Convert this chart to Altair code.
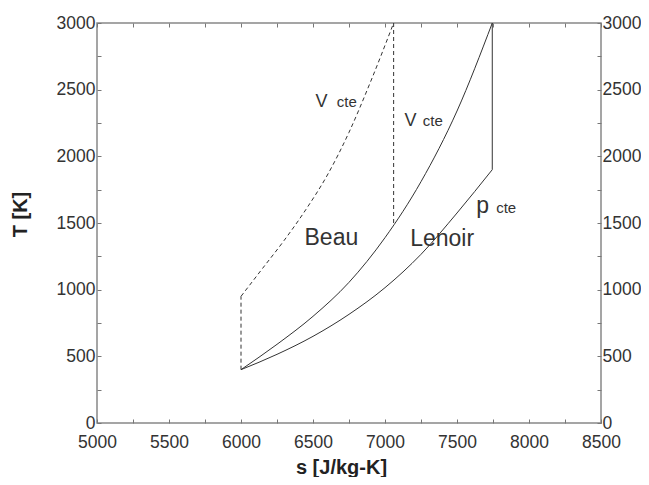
import altair as alt
import pandas as pd

# ---- data ----
# Beau cycle: vertical at s=6000 (dashed)
beau_vert_s = [6000, 6000]
beau_vert_T = [400, 950]
# Beau cycle: rising V cte curve (dashed)
beau_up_s = [6000, 6150, 6300, 6450, 6600, 6750, 6900, 7060]
beau_up_T = [950, 1160, 1370, 1600, 1860, 2180, 2560, 3000]
# Beau cycle: vertical drop at s=7060 (dashed)
beau_drop_s = [7060, 7060]
beau_drop_T = [3000, 1495]
# V cte curve shared by both cycles (solid)
vcte_s = [6000, 6250, 6500, 6750, 7000, 7250, 7500, 7745]
vcte_T = [400, 590, 800, 1055, 1390, 1810, 2340, 3000]
# Lenoir vertical drop at s=7745 (solid)
len_drop_s = [7745, 7745]
len_drop_T = [3000, 1900]
# p cte curve (solid)
pcte_s = [6000, 6250, 6500, 6750, 7000, 7250, 7500, 7745]
pcte_T = [400, 515, 650, 815, 1015, 1265, 1575, 1900]

# annotations (data coordinates)
big_text = ["Beau", "Lenoir", "p"]
big_s = [6441, 7175, 7633]
big_T = [1337, 1330, 1575]
mid_text = ["V", "V"]
mid_s = [6517, 7135]
mid_T = [2370, 2225]
small_text = ["cte", "cte", "cte"]
small_s = [6665, 7262, 7772]
small_T = [2370, 2225, 1575]

x_major = [5000, 5500, 6000, 6500, 7000, 7500, 8000, 8500]
x_minor = list(range(5000, 8501, 250))
y_major = [0, 500, 1000, 1500, 2000, 2500, 3000]
y_minor = list(range(0, 3001, 250))

# ---- build tables ----
rows = []
segments = [
    ("beau_vert", "dashed", "straight", beau_vert_s, beau_vert_T),
    ("beau_up", "dashed", "curve", beau_up_s, beau_up_T),
    ("beau_drop", "dashed", "straight", beau_drop_s, beau_drop_T),
    ("vcte", "solid", "curve", vcte_s, vcte_T),
    ("len_drop", "solid", "straight", len_drop_s, len_drop_T),
    ("pcte", "solid", "curve", pcte_s, pcte_T),
]
for name, style, kind, ss, tt in segments:
    for i, (s, t) in enumerate(zip(ss, tt)):
        rows.append({"s": s, "T": t, "seg": name, "style": style, "kind": kind, "idx": i})
lines = pd.DataFrame(rows)

big_df = pd.DataFrame({"s": big_s, "T": big_T, "text": big_text})
mid_df = pd.DataFrame({"s": mid_s, "T": mid_T, "text": mid_text})
small_df = pd.DataFrame({"s": small_s, "T": small_T, "text": small_text})

FONT = "Liberation Sans"
W, H = 504, 400
xs = alt.Scale(domain=[5000, 8500], nice=False, zero=False)
ys = alt.Scale(domain=[0, 3000], nice=False, zero=False)

lab = dict(labelFont=FONT, labelFontSize=17.5, labelColor="#333", domain=False,
           ticks=False, tickSize=0, grid=False, format="d", labelFlush=False,
           labelOverlap=False)
tick = dict(labels=False, domain=False, grid=False, ticks=True, tickSize=4,
            tickColor="#777", tickWidth=1, title="")

x_bottom = alt.Axis(orient="bottom", values=x_major, labelPadding=10,
                    title="s [J/kg-K]", titleFont=FONT, titleFontSize=20,
                    titleFontWeight="bold", titleColor="#222", titleX=244, titleY=50,
                    titleBaseline="alphabetic", titleAlign="center", **lab)
y_left = alt.Axis(orient="left", values=y_major, labelPadding=2,
                  title="T [K]", titleFont=FONT, titleFontSize=20,
                  titleFontWeight="bold", titleColor="#222", titleAngle=270,
                  titleX=-71, titleY=191, titleAlign="center",
                  titleBaseline="alphabetic", **lab)
y_right = alt.Axis(orient="right", values=y_major, labelPadding=1, title="", **lab)

base = alt.Chart(lines)


def line_layer(style, kind, x_axis=None, y_axis=None):
    mark_args = dict(color="#333", strokeWidth=1,
                     interpolate="monotone" if kind == "curve" else "linear")
    if style == "dashed":
        mark_args["strokeDash"] = [4, 3]
    return base.transform_filter(
        (alt.datum.style == style) & (alt.datum.kind == kind)
    ).mark_line(**mark_args).encode(
        x=alt.X("s:Q", scale=xs, axis=x_axis),
        y=alt.Y("T:Q", scale=ys, axis=y_axis),
        detail="seg:N", order="idx:Q",
    )


solid_curve = line_layer("solid", "curve", x_bottom, y_left)
solid_straight = line_layer("solid", "straight")
dashed_curve = line_layer("dashed", "curve")
dashed_straight = line_layer("dashed", "straight")

ticks_a = base.mark_point(opacity=0).encode(
    x=alt.X("s:Q", scale=xs, axis=alt.Axis(orient="top", offset=-H, values=x_minor, **tick)),
    y=alt.Y("T:Q", scale=ys, axis=alt.Axis(orient="right", offset=-W, values=y_minor, **tick)),
)
ticks_b = base.mark_point(opacity=0).encode(
    x=alt.X("s:Q", scale=xs, axis=alt.Axis(orient="bottom", offset=-H, values=x_minor, **tick)),
    y=alt.Y("T:Q", scale=ys, axis=alt.Axis(orient="left", offset=-W, values=y_minor, **tick)),
)
right_lab = base.mark_point(opacity=0).encode(
    x=alt.X("s:Q", scale=xs, axis=None),
    y=alt.Y("T:Q", scale=ys, axis=y_right),
)


def text_layer(df, size):
    return alt.Chart(df).mark_text(
        font=FONT, fontSize=size, color="#333", align="left", baseline="alphabetic"
    ).encode(
        x=alt.X("s:Q", scale=xs, axis=None),
        y=alt.Y("T:Q", scale=ys, axis=None),
        text="text:N",
    )


chart = alt.layer(
    solid_curve, solid_straight, dashed_curve, dashed_straight,
    ticks_a, ticks_b, right_lab,
    text_layer(big_df, 23), text_layer(mid_df, 18), text_layer(small_df, 15),
).resolve_axis(x="independent", y="independent").resolve_scale(
    x="shared", y="shared"
).properties(
    width=W, height=H,
    autosize=alt.AutoSizeParams(type="none"),
    padding={"left": 89, "top": 15, "right": 40, "bottom": 54},
    background="white",
).configure_view(stroke="#888", strokeWidth=1.5)

chart.save("out.html", embed_options={"renderer": "svg", "actions": False})
